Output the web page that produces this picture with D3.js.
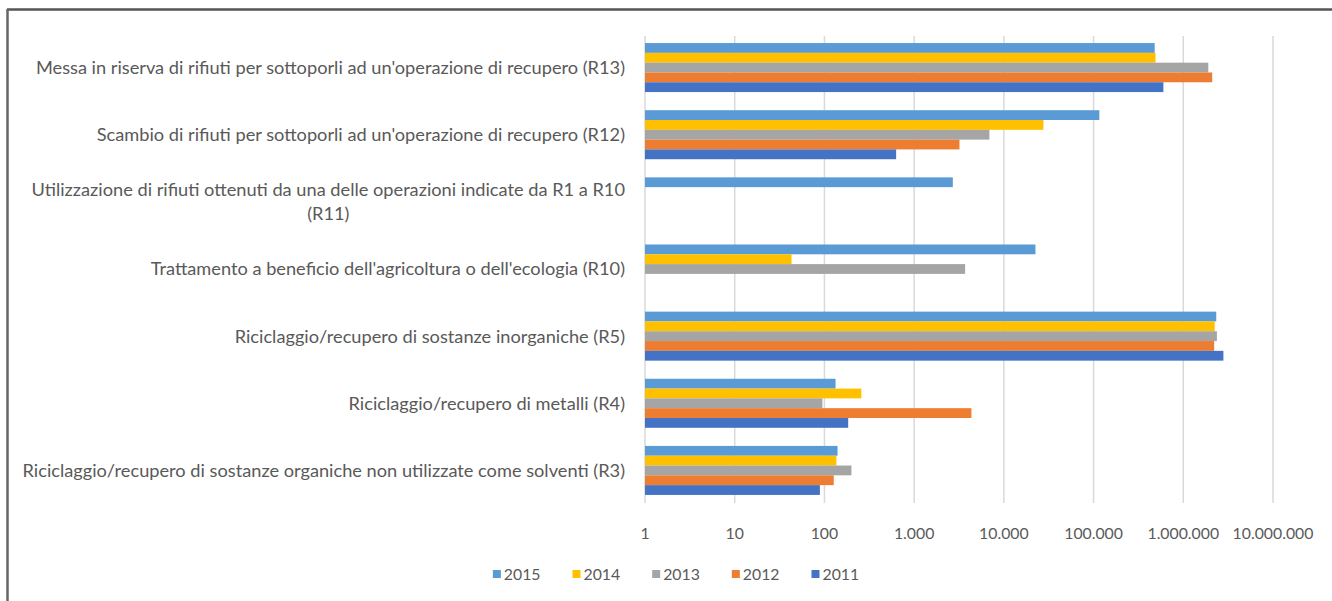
<!DOCTYPE html>
<html>
<head>
<meta charset="utf-8">
<script src="https://d3js.org/d3.v7.min.js"></script>
<style>
  body { margin: 0; background: #fff; }
  text { font-family: Lato, "Open Sans", sans-serif; fill: #595959; }
  .grid line { stroke: #d9d9d9; stroke-width: 1.5px; }
</style>
</head>
<body>
<svg id="chart" width="1332" height="601"></svg>
<script>
// categories listed top to bottom; "|" marks a line break
const categories = [
  "Messa in riserva di rifiuti per sottoporli ad un'operazione di recupero (R13)",
  "Scambio di rifiuti per sottoporli ad un'operazione di recupero (R12)",
  "Utilizzazione di rifiuti ottenuti da una delle operazioni indicate da R1 a R10|(R11)",
  "Trattamento a beneficio dell'agricoltura o dell'ecologia (R10)",
  "Riciclaggio/recupero di sostanze inorganiche (R5)",
  "Riciclaggio/recupero di metalli (R4)",
  "Riciclaggio/recupero di sostanze organiche non utilizzate come solventi (R3)"
];
const years = ["2015", "2014", "2013", "2012", "2011"];
const colors = ["#5B9BD5", "#FFC000", "#A5A5A5", "#ED7D31", "#4472C4"];

// values per year, same order as categories (null = no bar)
const v2015 = [480000, 116000, 2700, 22500, 2330000, 133, 140];
const v2014 = [490000, 27600, null, 43, 2240000, 258, 136];
const v2013 = [1900000, 6900, null, 3700, 2370000, 95, 200];
const v2012 = [2100000, 3200, null, null, 2210000, 4350, 127];
const v2011 = [600000, 630, null, null, 2800000, 184, 89];
const series = [v2015, v2014, v2013, v2012, v2011];

const tickValues = [1, 10, 100, 1000, 10000, 100000, 1000000, 10000000];
const itFormat = d3.formatLocale({decimal: ",", thousands: ".", grouping: [3], currency: ["€", ""]}).format(",d");

const svg = d3.select("#chart");

// frame
svg.append("line").attr("x1", 7).attr("x2", 1332).attr("y1", 9.5).attr("y2", 9.5)
  .attr("stroke", "#555").attr("stroke-width", 2.5);
svg.append("line").attr("x1", 7.5).attr("x2", 7.5).attr("y1", 9).attr("y2", 601)
  .attr("stroke", "#666").attr("stroke-width", 2.5);

const x = d3.scaleLog().domain([1, 10000000]).range([645, 1273]);
const y = d3.scaleBand().domain(categories).range([34, 504]).paddingInner(0.27).paddingOuter(0.135);
const yInner = d3.scaleBand().domain(years).range([0, y.bandwidth()]);

// gridlines
svg.append("g").attr("class", "grid")
  .selectAll("line").data(tickValues).join("line")
  .attr("x1", d => x(d)).attr("x2", d => x(d))
  .attr("y1", 36).attr("y2", 503);

// bars
const rows = [];
categories.forEach((c, i) => {
  years.forEach((yr, j) => {
    const v = series[j][i];
    if (v != null) rows.push({cat: c, year: yr, value: v, color: colors[j]});
  });
});
svg.append("g").selectAll("rect").data(rows).join("rect")
  .attr("x", x(1))
  .attr("y", d => y(d.cat) + yInner(d.year))
  .attr("width", d => x(d.value) - x(1))
  .attr("height", yInner.bandwidth())
  .attr("fill", d => d.color);

// size the category labels so the longest one runs from x=22 to x=625
const probe = svg.append("text").attr("font-size", 14).text(categories[6]);
const labelSize = 14 * 603 / probe.node().getComputedTextLength();
probe.remove();

const labels = svg.append("g").selectAll("text").data(categories).join("text")
  .attr("font-size", labelSize)
  .attr("text-anchor", "end")
  .attr("x", 625)
  .attr("y", d => y(d) + y.bandwidth() / 2);
labels.each(function (d) {
  const parts = d.split("|");
  const t = d3.select(this);
  if (parts.length === 1) {
    t.attr("dy", "0.35em").text(d);
  } else {
    // two-line label, second line centred under the first
    t.append("tspan").attr("x", 625).attr("dy", "-0.3em").text(parts[0]);
    const w = t.node().getComputedTextLength();
    t.append("tspan").attr("x", 625 - w / 2).attr("dy", "1.3em")
      .attr("text-anchor", "middle").text(parts[1]);
  }
});

// x axis tick labels
svg.append("g").selectAll("text").data(tickValues).join("text")
  .attr("x", d => x(d)).attr("y", 533).attr("dy", "0.35em")
  .attr("text-anchor", "middle").attr("font-size", 15.8)
  .text(d => itFormat(d));

// legend
const legend = svg.append("g");
let lx = 0;
const items = legend.selectAll("g").data(years).join("g");
items.append("rect").attr("width", 8).attr("height", 8).attr("y", -4)
  .attr("fill", (d, i) => colors[i]);
items.append("text").attr("x", 11).attr("dy", "0.35em").attr("font-size", 15.8).text(d => d);
items.each(function () {
  d3.select(this).attr("transform", `translate(${lx},0)`);
  lx += this.getBBox().width + 32;
});
const legendW = lx - 32;
legend.attr("transform", `translate(${676 - legendW / 2},574)`);
</script>
</body>
</html>
